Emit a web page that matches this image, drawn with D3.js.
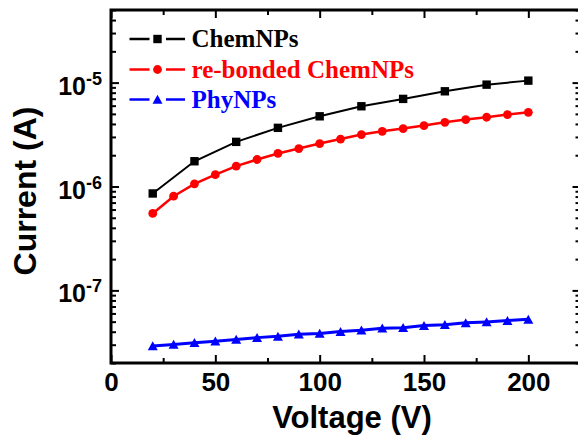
<!DOCTYPE html>
<html><head><meta charset="utf-8">
<script src="https://cdn.jsdelivr.net/npm/d3@7/dist/d3.min.js"></script>
<style>body{margin:0;background:#fff}svg{display:block}</style>
</head><body>
<script>
// ---- data ----
const voltageChem = [20,40,60,80,100,120,140,160,180,200];
const currentChem = [8.57e-7,1.75e-6,2.69e-6,3.67e-6,4.74e-6,5.92e-6,6.97e-6,8.25e-6,9.56e-6,1.045e-5];
const voltageRe = [20,30,40,50,60,70,80,90,100,110,120,130,140,150,160,170,180,190,200];
const currentRe = [5.50e-7,8.07e-7,1.06e-6,1.30e-6,1.57e-6,1.82e-6,2.08e-6,2.32e-6,2.59e-6,2.86e-6,3.16e-6,3.40e-6,3.61e-6,3.86e-6,4.15e-6,4.41e-6,4.64e-6,4.92e-6,5.18e-6];
const voltagePhy = [20,30,40,50,60,70,80,90,100,110,120,130,140,150,160,170,180,190,200];
const currentPhy = [2.92e-8,3.02e-8,3.13e-8,3.24e-8,3.37e-8,3.51e-8,3.61e-8,3.78e-8,3.85e-8,4.01e-8,4.14e-8,4.33e-8,4.38e-8,4.58e-8,4.68e-8,4.87e-8,4.97e-8,5.12e-8,5.26e-8];
const seriesNames = ["ChemNPs","re-bonded ChemNPs","PhyNPs"];
const xMajorTicks = [0,50,100,150,200];
const xMinorTicks = [25,75,125,175];
const yMajorTicks = [1e-7,1e-6,1e-5];
const yMajorExponents = ["-7","-6","-5"];
const xTitle = "Voltage (V)";
const yTitle = "Current (A)";

// ---- layout ----
const W = 578, H = 436;
const L = 111, R = 580.5, T = 10, B = 363;
const colors = ["#000000","#ff0000","#0000ff"];
const shapes = ["square","circle","triangle"];

const svg = d3.select("body").append("svg").attr("width",W).attr("height",H);
const x = d3.scaleLinear().domain([0,225]).range([L,R]);
const y = d3.scaleLog().domain([2e-8,5e-5]).range([B,T]);

const yMinor = [];
for (let k=-8;k<=-5;k++) for (let m=2;m<=9;m++){const v=m*Math.pow(10,k); if(v>=2e-8*0.999 && v<=5e-5*1.001) yMinor.push(v);}

function styleAxis(g){
  g.select(".domain").remove();
  g.selectAll(".tick line").attr("stroke","#000").attr("stroke-width",2);
}
// bottom
svg.append("g").attr("transform",`translate(0,${B})`)
  .call(d3.axisBottom(x).tickValues(xMajorTicks).tickSize(-8).tickPadding(10).tickFormat(d3.format("d")))
  .call(styleAxis)
  .call(g=>g.selectAll("text").attr("font-family","Liberation Sans, Arial, sans-serif").attr("font-weight","bold").attr("font-size",26).attr("fill","#000"));
svg.append("g").attr("transform",`translate(0,${B})`)
  .call(d3.axisBottom(x).tickValues(xMinorTicks).tickSize(-5).tickFormat(""))
  .call(styleAxis);
// top
svg.append("g").attr("transform",`translate(0,${T})`)
  .call(d3.axisTop(x).tickValues(xMajorTicks).tickSize(-8).tickFormat(""))
  .call(styleAxis);
svg.append("g").attr("transform",`translate(0,${T})`)
  .call(d3.axisTop(x).tickValues(xMinorTicks).tickSize(-5).tickFormat(""))
  .call(styleAxis);
// left
svg.append("g").attr("transform",`translate(${L},0)`)
  .call(d3.axisLeft(y).tickValues(yMajorTicks).tickSize(-8).tickFormat(""))
  .call(styleAxis);
svg.append("g").attr("transform",`translate(${L},0)`)
  .call(d3.axisLeft(y).tickValues(yMinor).tickSize(-5).tickFormat(""))
  .call(styleAxis);
// right
svg.append("g").attr("transform",`translate(${R},0)`)
  .call(d3.axisRight(y).tickValues(yMajorTicks).tickSize(-8).tickFormat(""))
  .call(styleAxis);
svg.append("g").attr("transform",`translate(${R},0)`)
  .call(d3.axisRight(y).tickValues(yMinor).tickSize(-5).tickFormat(""))
  .call(styleAxis);

// frame
svg.append("rect").attr("x",L).attr("y",T).attr("width",R-L).attr("height",B-T)
  .attr("fill","none").attr("stroke","#000").attr("stroke-width",3);

// y tick labels
yMajorTicks.forEach((v,i)=>{
  const t = svg.append("text").attr("x",102).attr("y",y(v)+12)
    .attr("text-anchor","end").attr("font-family","Liberation Sans, Arial, sans-serif")
    .attr("font-weight","bold").attr("font-size",25).attr("fill","#000");
  t.append("tspan").text("10");
  t.append("tspan").attr("dy",-10).attr("font-size",18).text(yMajorExponents[i]);
});

// titles
svg.append("text").attr("x",352).attr("y",428).attr("text-anchor","middle")
  .attr("font-family","Liberation Sans, Arial, sans-serif").attr("font-weight","bold").attr("font-size",31).text(xTitle);
svg.append("text").attr("transform","translate(36,191) rotate(-90)").attr("text-anchor","middle")
  .attr("font-family","Liberation Sans, Arial, sans-serif").attr("font-weight","bold").attr("font-size",32).text(yTitle);

// marker drawing
function marker(g, shape, color){
  if (shape==="square") g.append("rect").attr("x",-4.2).attr("y",-4.2).attr("width",8.4).attr("height",8.4).attr("fill",color);
  else if (shape==="circle") g.append("circle").attr("r",4.4).attr("fill",color);
  else g.append("path").attr("d","M0,-4.7L5,4.3L-5,4.3Z").attr("fill",color);
}

const series = [
  {xs:voltageChem, ys:currentChem},
  {xs:voltageRe, ys:currentRe},
  {xs:voltagePhy, ys:currentPhy}
];
const widths = [2,2.5,3];
series.forEach((s,i)=>{
  const pts = s.xs.map((v,j)=>[v,s.ys[j]]);
  svg.append("path").datum(pts)
    .attr("d", d3.line().x(d=>x(d[0])).y(d=>y(d[1])))
    .attr("fill","none").attr("stroke",colors[i]).attr("stroke-width",widths[i]);
  svg.append("g").selectAll("g").data(pts).join("g")
    .attr("transform",d=>`translate(${x(d[0])},${y(d[1])})`)
    .each(function(){ marker(d3.select(this), shapes[i], colors[i]); });
});

// legend
const legRows = [39, 69.5, 99.5];
seriesNames.forEach((name,i)=>{
  const ly = legRows[i];
  const g = svg.append("g");
  g.append("line").attr("x1",129.5).attr("x2",149.5).attr("y1",ly).attr("y2",ly).attr("stroke",colors[i]).attr("stroke-width",2.5);
  g.append("line").attr("x1",166).attr("x2",185).attr("y1",ly).attr("y2",ly).attr("stroke",colors[i]).attr("stroke-width",2.5);
  const m = g.append("g").attr("transform",`translate(157.5,${ly})`);
  marker(m, shapes[i], colors[i]);
  g.append("text").attr("x",191.5).attr("y",ly+8).attr("font-family","Liberation Serif, 'Times New Roman', serif")
    .attr("font-weight","bold").attr("font-size",25).attr("fill",colors[i]).text(name);
});
</script>
</body></html>
